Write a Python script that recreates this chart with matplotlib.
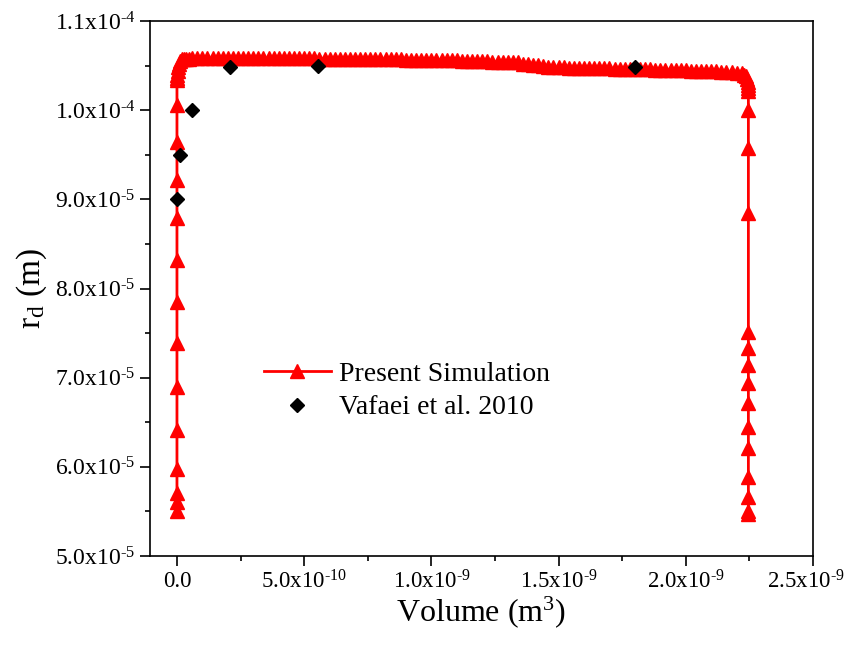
import numpy as np
import matplotlib

matplotlib.use("Agg")
import matplotlib.pyplot as plt
from matplotlib.ticker import MultipleLocator, FuncFormatter
from matplotlib.transforms import ScaledTranslation

plt.rcParams.update({
    "font.family": ["Liberation Serif", "DejaVu Serif"],
    "mathtext.fontset": "custom",
    "mathtext.rm": "Liberation Serif",
    "mathtext.it": "Liberation Serif:italic",
    "mathtext.bf": "Liberation Serif:bold",
})

X_UNIT = 1e-10   # m^3
Y_UNIT = 1e-5    # m

# Present simulation: rise at V~0, plateau, fall at V~2.25e-9
rise_x = [0.0] * 14
rise_y = [5.50, 5.61, 5.71, 5.98, 6.41, 6.90, 7.39, 7.85, 8.32, 8.79, 9.22, 9.64, 10.06, 10.34]

corner_l_x = [0.00, 0.02, 0.03, 0.05, 0.08, 0.12, 0.18, 0.26, 0.36, 0.48]
corner_l_y = [10.36, 10.40, 10.44, 10.48, 10.52, 10.55, 10.57, 10.575, 10.578, 10.579]

plateau_x = [
    0.6, 0.8, 1.0, 1.2, 1.4, 1.6, 1.8, 2.0, 2.2, 2.4,
    2.6, 2.8, 3.0, 3.2, 3.4, 3.6, 3.8, 4.0, 4.2, 4.4,
    4.6, 4.8, 5.0, 5.2, 5.4, 5.6, 5.8, 6.0, 6.2, 6.4,
    6.6, 6.8, 7.0, 7.2, 7.4, 7.6, 7.8, 8.0, 8.2, 8.4,
    8.6, 8.8, 9.0, 9.2, 9.4, 9.6, 9.8, 10.0, 10.2, 10.4,
    10.6, 10.8, 11.0, 11.2, 11.4, 11.6, 11.8, 12.0, 12.2, 12.4,
    12.6, 12.8, 13.0, 13.2, 13.4, 13.6, 13.8, 14.0, 14.2, 14.4,
    14.6, 14.8, 15.0, 15.2, 15.4, 15.6, 15.8, 16.0, 16.2, 16.4,
    16.6, 16.8, 17.0, 17.2, 17.4, 17.6, 17.8, 18.0, 18.2, 18.4,
    18.6, 18.8, 19.0, 19.2, 19.4, 19.6, 19.8, 20.0, 20.2, 20.4,
    20.6, 20.8, 21.0, 21.2, 21.4, 21.6, 21.8, 22.0, 22.2,
]
plateau_y = [
    10.580, 10.581, 10.581, 10.582, 10.582, 10.583, 10.583, 10.584, 10.584, 10.585,
    10.585, 10.585, 10.585, 10.585, 10.584, 10.584, 10.584, 10.583, 10.583, 10.582,
    10.582, 10.581, 10.581, 10.580, 10.580, 10.579, 10.579, 10.578, 10.578, 10.577,
    10.577, 10.576, 10.575, 10.575, 10.574, 10.573, 10.572, 10.572, 10.571, 10.570,
    10.569, 10.569, 10.568, 10.567, 10.566, 10.565, 10.564, 10.563, 10.562, 10.561,
    10.560, 10.559, 10.558, 10.557, 10.556, 10.554, 10.552, 10.549, 10.547, 10.544,
    10.541, 10.539, 10.537, 10.537, 10.540, 10.522, 10.516, 10.510, 10.504, 10.499,
    10.482, 10.481, 10.480, 10.479, 10.478, 10.477, 10.476, 10.475, 10.474, 10.473,
    10.470, 10.469, 10.468, 10.467, 10.466, 10.465, 10.463, 10.462, 10.460, 10.459,
    10.457, 10.456, 10.455, 10.453, 10.452, 10.450, 10.448, 10.446, 10.444, 10.442,
    10.440, 10.438, 10.436, 10.434, 10.432, 10.428, 10.424, 10.419, 10.414,
]

corner_r_x = [22.30, 22.36, 22.40, 22.43, 22.45, 22.46, 22.46]
corner_r_y = [10.40, 10.38, 10.35, 10.32, 10.28, 10.25, 10.22]

fall_x = [22.46] * 14
fall_y = [10.00, 9.576, 8.85, 7.51, 7.33, 7.14, 6.94, 6.72, 6.45, 6.21, 5.89, 5.66, 5.50, 5.47]

# Vafaei et al. 2010
vaf_x = [0.0, 0.12, 0.6, 2.1, 5.55, 18.0]
vaf_y = [9.0, 9.5, 10.0, 10.48, 10.49, 10.48]

sim_x = np.array(rise_x + corner_l_x + plateau_x + corner_r_x + fall_x) * X_UNIT
sim_y = np.array(rise_y + corner_l_y + plateau_y + corner_r_y + fall_y) * Y_UNIT


def sci_fmt(v, pos):
    if abs(v) < 1e-20:
        return "0.0"
    e = int(np.floor(np.log10(abs(v)) + 1e-9))
    m = v / 10.0 ** e
    return f"{m:.1f}x10$^{{\\text{{-}}{abs(e)}}}$"


fig = plt.figure(figsize=(8.57, 6.5), dpi=100)
ax = fig.add_axes([150 / 857, 94 / 650, 663 / 857, 535 / 650])

ax.plot(sim_x, sim_y, "-^", color="#ff0000", lw=2.0, ms=10, mec="#ff0000",
        label="Present Simulation", zorder=2)
ax.plot(np.array(vaf_x) * X_UNIT, np.array(vaf_y) * Y_UNIT, "D", color="black",
        ms=7.5, ls="none", label="Vafaei et al. 2010", zorder=3)

ax.set_xlim(-1.06e-10, 2.5e-9)
ax.set_ylim(5.0e-5, 1.1e-4)
ax.xaxis.set_major_locator(MultipleLocator(5e-10))
ax.xaxis.set_minor_locator(MultipleLocator(2.5e-10))
ax.yaxis.set_major_locator(MultipleLocator(1e-5))
ax.yaxis.set_minor_locator(MultipleLocator(5e-6))
ax.xaxis.set_major_formatter(FuncFormatter(sci_fmt))
ax.yaxis.set_major_formatter(FuncFormatter(sci_fmt))

ax.tick_params(which="both", direction="out", width=1.2, labelsize=17,
               top=False, right=False)
ax.tick_params(axis="x", labelsize=16.5)
ax.tick_params(which="major", length=7)
ax.tick_params(which="minor", length=3.5)
for s in ax.spines.values():
    s.set_linewidth(1.2)

ax.set_xlabel("Volume (m$^3$)", fontsize=23, labelpad=0)
ax.set_ylabel("r$_\\mathregular{d}$ (m)", fontsize=24, labelpad=4)

ax.legend(loc="upper left", bbox_to_anchor=(0.155, 0.385), frameon=False,
          fontsize=20, handlelength=2.4, handletextpad=0.3, labelspacing=0.3,
          borderaxespad=0)

# keep the last x tick label inside the canvas
fig.canvas.draw()
for tick in ax.xaxis.get_major_ticks():
    if abs(tick.get_loc() - 2.5e-9) < 1e-12:
        lbl = tick.label1
        lbl.set_transform(lbl.get_transform() + ScaledTranslation(-5 / 72, 0, fig.dpi_scale_trans))

fig.savefig("out.png", dpi=100)
